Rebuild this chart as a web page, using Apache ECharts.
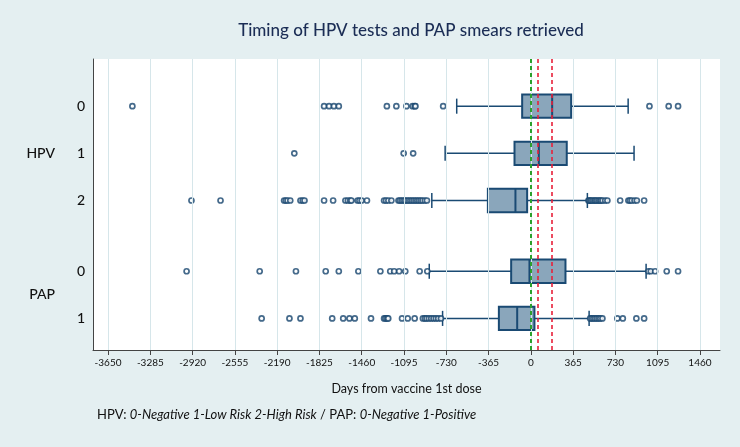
<!DOCTYPE html>
<html>
<head>
<meta charset="utf-8">
<script src="https://cdn.jsdelivr.net/npm/echarts@6/dist/echarts.min.js"></script>
<style>html,body{margin:0;padding:0;background:#e4eff1;}#c{width:740px;height:447px;}</style>
</head>
<body>
<div id="c"></div>
<script>
// ---- data ----
const rowLabels = ['0', '1', '2', '0', '1'];
const rowPos = [0, 1, 2, 3.5, 4.5];
const groupLabels = ['HPV', 'PAP'];
const groupPos = [1, 4];
const whiskerLow = [-640, -740, -855, -877, -762];
const q1 = [-75, -141, -371, -170, -276];
const median = [184, 69, -133, -12, -118];
const q3 = [348, 310, -32, 299, 31];
const whiskerHigh = [840, 891, 488, 995, 503];
const outliersHPV0 = [-3440, -1785, -1742, -1700, -1658, -1243, -1161, -1074, -1021, -1003, -996, -757, 1024, 1190, 1271];
const outliersHPV1 = [-2042, -1098, -1016];
const outliersHPV2 = [-2930, -2679, -2130, -2115, -2100, -2077, -1989, -1970, -1954, -1785, -1707, -1601, -1580, -1560, -1549,
  -1496, -1480, -1461, -1415, -1267, -1250, -1230, -1204, -1143, -1130, -1115, -1100, -1085, -1070, -1055, -1040, -1025,
  -1010, -995, -980, -965, -950, -935, -915, -897,
  497, 505, 515, 525, 538, 550, 560, 572, 585, 597, 607, 620, 642, 661, 771, 842, 856, 871, 895, 915, 978];
const outliersPAP0 = [-2972, -2341, -2028, -1771, -1658, -1489, -1299, -1214, -1180, -1137, -1084, -960, -894, 1015, 1035, 1073, 1173, 1271];
const outliersPAP1 = [-2324, -2084, -1989, -1715, -1620, -1566, -1520, -1380, -1267, -1255, -1240, -1231, -1112, -1063, -1003,
  -932, -915, -900, -880, -860, -840, -820, -800, -776,
  512, 525, 540, 555, 570, 585, 600, 618, 747, 794, 911, 978];
const outliers = [outliersHPV0, outliersHPV1, outliersHPV2, outliersPAP0, outliersPAP1];
const xTicks = [-3650, -3285, -2920, -2555, -2190, -1825, -1460, -1095, -730, -365, 0, 365, 730, 1095, 1460];
const refGreen = [0];
const refRed = [61, 183];

// ---- chart ----
const navy = '#1a4a73';
const FONT = 'Lato';
const boxData = rowPos.map((p, i) => [p, whiskerLow[i], q1[i], median[i], q3[i], whiskerHigh[i]]);
const outlierData = [];
outliers.forEach((arr, i) => arr.forEach(v => outlierData.push([v, rowPos[i]])));

const chart = echarts.init(document.getElementById('c'));
chart.setOption({
  backgroundColor: '#e4eff1',
  animation: false,
  title: {
    text: 'Timing of HPV tests and PAP smears retrieved',
    left: 406, top: 17, textAlign: 'center',
    textStyle: { fontFamily: FONT, fontSize: 17, fontWeight: 500, color: '#1b2d55' }
  },
  grid: { left: 93, right: 20, top: 59, bottom: 97, backgroundColor: '#ffffff', show: true, borderWidth: 0 },
  xAxis: {
    type: 'value', min: -3780, max: 1633,
    name: 'Days from vaccine 1st dose', nameLocation: 'middle', nameGap: 32,
    nameTextStyle: { fontFamily: FONT, fontSize: 12.5, color: '#111' },
    axisLine: { show: true, onZero: false, lineStyle: { color: '#444', width: 1 } },
    axisTick: { show: true, customValues: xTicks, length: 5, lineStyle: { color: '#444' } },
    axisLabel: { customValues: xTicks, fontFamily: FONT, fontSize: 10, color: '#111', margin: 8,
      formatter: v => String(v) },
    splitLine: { show: false }
  },
  yAxis: [{
    type: 'value', inverse: true, min: -1, max: 5.17, interval: 0.5,
    axisLine: { show: true, onZero: false, lineStyle: { color: '#444', width: 1 } },
    axisTick: { show: false },
    splitLine: { show: false },
    axisLabel: {
      fontFamily: FONT, fontSize: 14, fontWeight: 500, color: '#111', margin: 8,
      formatter: v => { const i = rowPos.indexOf(v); return i >= 0 ? rowLabels[i] : ''; }
    }
  }, {
    type: 'value', inverse: true, min: -1, max: 5.17, interval: 0.5, position: 'left', offset: 30,
    axisLine: { show: false }, axisTick: { show: false }, splitLine: { show: false },
    axisLabel: {
      fontFamily: FONT, fontSize: 14, fontWeight: 500, color: '#111', margin: 8,
      formatter: v => { const i = groupPos.indexOf(v); return i >= 0 ? groupLabels[i] : ''; }
    }
  }],
  graphic: [{
    type: 'text', left: 97, top: 408,
    style: {
      text: '{n|HPV: }{i|0-Negative 1-Low Risk 2-High Risk}{n| / PAP: }{i|0-Negative 1-Positive}',
      rich: {
        n: { fontFamily: FONT, fontSize: 13, fill: '#111' },
        i: { fontFamily: FONT, fontSize: 13, fontStyle: 'italic', fill: '#111' }
      }
    }
  }],
  series: [
    {
      type: 'scatter', data: [], z: 1, silent: true,
      markLine: {
        silent: true, symbol: 'none', label: { show: false },
        lineStyle: { color: '#d6e6ea', width: 1, type: 'solid' },
        data: xTicks.map(t => ({ xAxis: t }))
      }
    },
    {
      type: 'custom', z: 3,
      renderItem: function (params, api) {
        const p = api.value(0);
        const c = api.coord([0, p]);
        const y = c[1];
        const hb = api.size([0, 0.247])[1];
        const hc = api.size([0, 0.16])[1];
        const xs = [1, 2, 3, 4, 5].map(k => api.coord([api.value(k), p])[0]);
        const ls = { stroke: navy, lineWidth: 1.5 };
        return {
          type: 'group', children: [
            { type: 'line', shape: { x1: xs[0], y1: y, x2: xs[1], y2: y }, style: ls },
            { type: 'line', shape: { x1: xs[3], y1: y, x2: xs[4], y2: y }, style: ls },
            { type: 'line', shape: { x1: xs[0], y1: y - hc, x2: xs[0], y2: y + hc }, style: ls },
            { type: 'line', shape: { x1: xs[4], y1: y - hc, x2: xs[4], y2: y + hc }, style: ls },
            { type: 'rect', shape: { x: xs[1], y: y - hb, width: xs[3] - xs[1], height: 2 * hb },
              style: { fill: '#8aa6bb', stroke: navy, lineWidth: 2 } },
            { type: 'line', shape: { x1: xs[2], y1: y - hb, x2: xs[2], y2: y + hb }, style: { stroke: navy, lineWidth: 2 } }
          ]
        };
      },
      encode: { x: [1, 2, 3, 4, 5], y: 0 },
      data: boxData
    },
    {
      type: 'scatter', z: 4, symbol: 'circle', symbolSize: 5,
      itemStyle: { color: '#ffffff', borderColor: '#17456e', borderWidth: 1.7 },
      data: outlierData
    },
    {
      type: 'scatter', data: [], z: 5, silent: true,
      markLine: {
        silent: true, symbol: 'none', label: { show: false },
        data: refGreen.map(t => ({ xAxis: t, lineStyle: { color: '#2ca02c', width: 2, type: [4, 3] } }))
          .concat(refRed.map(t => ({ xAxis: t, lineStyle: { color: '#e8203a', width: 1.6, type: [4, 3] } })))
      }
    }
  ]
});
</script>
</body>
</html>
